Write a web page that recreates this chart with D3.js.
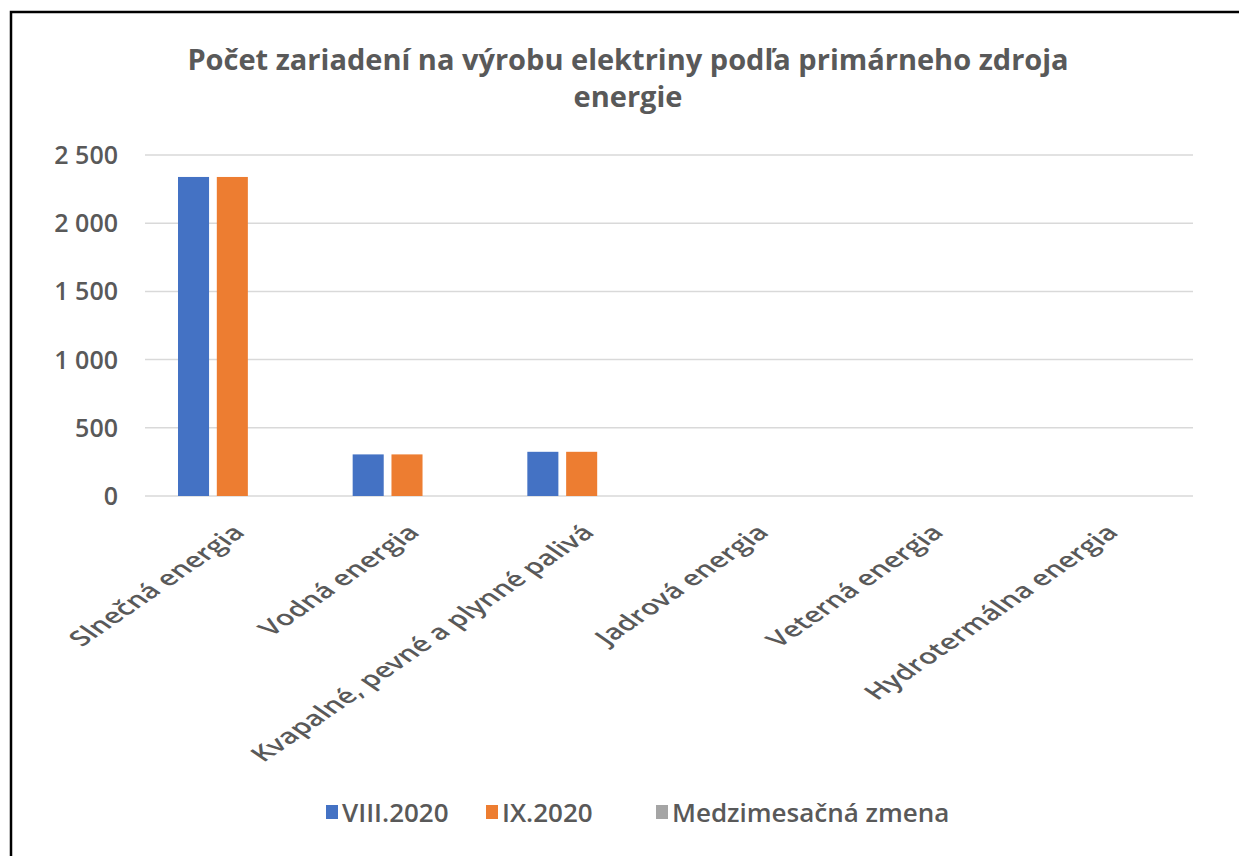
<!DOCTYPE html>
<html>
<head>
<meta charset="utf-8">
<script src="https://cdn.jsdelivr.net/npm/d3@7"></script>
<style>
  body { margin: 0; background: #fff; }
  text { font-family: "Open Sans", "DejaVu Sans", sans-serif; fill: #595959; }
</style>
</head>
<body>
<div id="figure"></div>
<script>
// data
var categories = ["Slnečná energia", "Vodná energia", "Kvapalné, pevné a plynné palivá",
                  "Jadrová energia", "Veterná energia", "Hydrotermálna energia"];
var seriesNames = ["VIII.2020", "IX.2020", "Medzimesačná zmena"];
var aug2020 = [2339, 305, 324, 0, 0, 0];
var sep2020 = [2339, 305, 324, 0, 0, 0];
var monthChange = [0, 0, 0, 0, 0, 0];
var yTicks = [0, 500, 1000, 1500, 2000, 2500];
var colors = ["#4472C4", "#ED7D31", "#A5A5A5"];

var data = categories.map(function (c, i) {
    return { cat: c, values: [aug2020[i], sep2020[i], monthChange[i]] };
});

const W = 1239, H = 856;
const margin = { top: 155, right: 46, bottom: 360, left: 145 };
var width = W - margin.left - margin.right;
var height = H - margin.top - margin.bottom;

var root = d3.select("#figure")
    .append("svg")
    .attr("width", W)
    .attr("height", H);

// outer frame
root.append("rect")
    .attr("x", 11).attr("y", 12)
    .attr("width", W + 20).attr("height", H + 20)
    .attr("fill", "none")
    .attr("stroke", "#000")
    .attr("stroke-width", 2.5);

// title
var title = root.append("text")
    .attr("text-anchor", "middle")
    .attr("font-size", 29)
    .attr("font-weight", 700);
title.append("tspan").attr("x", 628).attr("y", 70)
    .text("Počet zariadení na výrobu elektriny podľa primárneho zdroja");
title.append("tspan").attr("x", 628).attr("y", 107)
    .text("energie");

var svg = root.append("g")
    .attr("transform", `translate(${margin.left},${margin.top})`);

var x = d3.scaleBand()
    .domain(categories)
    .range([0, width])
    .paddingInner(0)
    .paddingOuter(0);

var xInner = d3.scaleBand()
    .domain(d3.range(seriesNames.length))
    .range([33, x.bandwidth() - 33])
    .paddingInner(0.2);

var y = d3.scaleLinear()
    .domain([0, 2500])
    .range([height, 0]);

var locale = d3.formatLocale({ decimal: ",", thousands: " ", grouping: [3], currency: ["", ""] });
var fmt = locale.format(",");

// gridlines
svg.append("g")
    .selectAll("line")
    .data(yTicks)
    .join("line")
    .attr("x1", 0)
    .attr("x2", width)
    .attr("y1", d => y(d))
    .attr("y2", d => y(d))
    .attr("stroke", "#d9d9d9")
    .attr("stroke-width", 1.5);

// y axis labels
var yAxis = svg.append("g")
    .call(d3.axisLeft(y).tickValues(yTicks).tickFormat(fmt).tickSize(0).tickPadding(27));
yAxis.select(".domain").remove();
yAxis.selectAll("text")
    .attr("font-size", 25)
    .attr("font-weight", 600)
    .attr("font-family", null)
    .attr("fill", "#595959")
    .attr("dy", "0.34em");

// bars
var groups = svg.append("g")
    .selectAll("g")
    .data(data)
    .join("g")
    .attr("transform", d => `translate(${x(d.cat)},0)`);

groups.selectAll("rect")
    .data(d => d.values.map((v, i) => ({ v: v, i: i })))
    .join("rect")
    .attr("x", d => xInner(d.i))
    .attr("width", xInner.bandwidth())
    .attr("y", d => y(d.v))
    .attr("height", d => height - y(d.v))
    .attr("fill", d => colors[d.i]);

// x axis labels (slanted, stretched sideways like the original)
var xAxis = svg.append("g")
    .attr("transform", `translate(0,${height})`)
    .call(d3.axisBottom(x).tickSize(0).tickPadding(0));
xAxis.select(".domain").remove();
xAxis.selectAll("text")
    .attr("font-size", 21)
    .attr("font-weight", 600)
    .attr("font-family", null)
    .attr("fill", "#595959")
    .attr("text-anchor", "end")
    .attr("dy", null)
    .attr("y", 0)
    .attr("transform", "translate(14,38) scale(1.45,1) rotate(-45)");

// legend
var legendX = [326, 486, 656];
var legend = root.append("g")
    .selectAll("g")
    .data(seriesNames)
    .join("g")
    .attr("transform", (d, i) => `translate(${legendX[i]},805)`);
legend.append("rect")
    .attr("width", 12)
    .attr("height", 14)
    .attr("fill", (d, i) => colors[i]);
legend.append("text")
    .attr("x", 16)
    .attr("y", 17)
    .attr("font-size", 26)
    .attr("font-weight", 600)
    .text(d => d);
</script>
</body>
</html>
